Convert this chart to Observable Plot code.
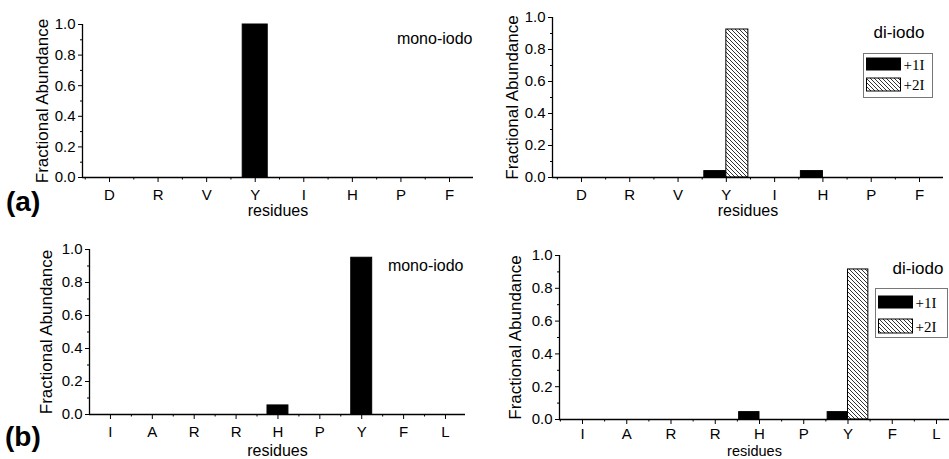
<!DOCTYPE html>
<html><head><meta charset="utf-8">
<script src="https://cdn.jsdelivr.net/npm/d3@7"></script>
<script src="https://cdn.jsdelivr.net/npm/@observablehq/plot@0.6"></script>
<style>
body{margin:0;background:#fff;font-family:"Liberation Sans",Arial,sans-serif;}
#root{position:relative;width:949px;height:459px;overflow:hidden;background:#fff;}
.panel{position:absolute;}
#overlay{position:absolute;left:0;top:0;pointer-events:none;}
</style></head><body>
<svg width="0" height="0" style="position:absolute"><defs>
<pattern id="hatch" patternUnits="userSpaceOnUse" width="4" height="4">
<rect width="4" height="4" fill="white"/>
<path d="M-1,-1 L5,5 M3,-1 L5,1 M-1,3 L1,5" stroke="#333" stroke-width="1"/>
</pattern></defs></svg>
<div id="root"></div>
<script>
// ---- data ----
const residuesA = ["D","R","V","Y","I","H","P","F"];
const monoA = [0,0,0,1.0,0,0,0,0];
const di1IA = [0,0,0,0.04,0,0.04,0,0];
const di2IA = [0,0,0,0.925,0,0,0,0];

const residuesB = ["I","A","R","R","H","P","Y","F","L"];
const monoB = [0,0,0,0,0.055,0,0.95,0,0];
const di1IB = [0,0,0,0,0.045,0,0.045,0,0];
const di2IB = [0,0,0,0,0,0,0.915,0,0];

const yTicks = [0,0.2,0.4,0.6,0.8,1.0];
const yMinor = [0.1,0.3,0.5,0.7,0.9];
const seriesNames = ["+1I","+2I"];

const root = document.getElementById("root");
const FONT = "Liberation Sans, Arial, sans-serif";

function makePanel(p){
  const n = p.cats.length;
  const idx = p.cats.map((c,k)=>k+1);
  const halves = d3.range(0, n+1).map(k=>k+0.5).filter(h=>h>p.domain[0]+0.01 && h<p.domain[1]-0.01);
  const marks = [];
  p.series.forEach(s=>{
    const rows = s.values.map((v,k)=>({i:k+1, v}));
    marks.push(Plot.rect(rows, {filter:d=>d.v>0, x1:d=>d.i+s.off*p.barW, x2:d=>d.i+(s.off+1)*p.barW, y1:0, y2:"v", fill:s.fill, stroke:"black", strokeWidth:1}));
  });
  marks.push(
    Plot.ruleY([0], {stroke:"black", strokeWidth:1.3}),
    Plot.ruleX([p.domain[0]], {y1:0, y2:1, stroke:"black", strokeWidth:1.3}),
    Plot.axisY({ticks:yTicks, tickSize:4, tickFormat:()=>"", label:null, anchor:"left"}),
    Plot.axisY({ticks:yMinor, tickSize:2, tickFormat:()=>"", label:null, anchor:"left"}),
    Plot.axisX({ticks:idx, tickSize:5, tickFormat:()=>"", label:null, anchor:"bottom"}),
    Plot.axisX({ticks:halves, tickSize:2.5, tickFormat:()=>"", label:null, anchor:"bottom"}),
    // tick labels
    Plot.text(yTicks, {y:d=>d, text:d=>d.toFixed(1), frameAnchor:"left", dx:-7, textAnchor:"end", lineAnchor:"middle", fontSize:15}),
    Plot.text(idx, {x:d=>d, text:d=>p.cats[d-1], frameAnchor:"bottom", dy:p.xtickDy, lineAnchor:"top", fontSize:15}),
    // titles
    Plot.text(["Fractional Abundance"], {frameAnchor:"left", rotate:-90, dx:p.ylabDx, fontSize:17, lineAnchor:"middle", textAnchor:"middle"}),
    Plot.text(["residues"], {frameAnchor:"bottom", dy:p.xlabDy, fontSize:p.xlabSize, lineAnchor:"middle"}),
    Plot.text([p.title], {frameAnchor:"top-right", textAnchor:"end", dx:p.titleDx, dy:p.titleDy, fontSize:p.titleSize, lineAnchor:"middle"})
  );
  const chart = Plot.plot({
    width:p.width, height:p.height,
    marginLeft:p.ml, marginRight:p.mr, marginTop:p.mt, marginBottom:p.mb,
    x:{type:"linear", domain:p.domain},
    y:{domain:[0,1]},
    style:{fontFamily:FONT, fontSize:"15px", color:"black", background:"transparent", overflow:"visible"},
    marks
  });
  chart.classList.add("panel");
  chart.style.left = p.left+"px";
  chart.style.top = p.top+"px";
  root.appendChild(chart);
}

makePanel({cats:residuesA, series:[{values:monoA, off:-0.5, fill:"black"}],
  left:0, top:0, width:475, height:225, ml:82, mr:2, mt:24, mb:48, domain:[0.444,8.494], barW:0.515,
  xtickDy:12, ylabDx:-40, xlabDy:33, xlabSize:16, title:"mono-iodo", titleDx:-1, titleDy:14, titleSize:16});
makePanel({cats:residuesA, series:[{values:di1IA, off:-1, fill:"black"},{values:di2IA, off:0, fill:"url(#hatch)"}],
  left:470, top:0, width:479, height:225, ml:82, mr:6, mt:17, mb:48, domain:[0.40,8.497], barW:0.456,
  xtickDy:12, ylabDx:-40, xlabDy:33, xlabSize:16, title:"di-iodo", titleDx:-19, titleDy:15, titleSize:17});
makePanel({cats:residuesB, series:[{values:monoB, off:-0.5, fill:"black"}],
  left:0, top:230, width:475, height:229, ml:89, mr:10, mt:19, mb:45, domain:[0.5,9.478], barW:0.5,
  xtickDy:12, ylabDx:-43, xlabDy:36, xlabSize:16, title:"mono-iodo", titleDx:-2, titleDy:16, titleSize:16});
makePanel({cats:residuesB, series:[{values:di1IB, off:-1, fill:"black"},{values:di2IB, off:0, fill:"url(#hatch)"}],
  left:470, top:230, width:479, height:229, ml:89, mr:0, mt:25, mb:40, domain:[0.48,9.294], barW:0.46,
  xtickDy:9, ylabDx:-44, xlabDy:31.5, xlabSize:14.5, title:"di-iodo", titleDx:-6, titleDy:13, titleSize:17});

// overlay: panel letters and legends
const ns = "http://www.w3.org/2000/svg";
const ov = document.createElementNS(ns,"svg");
ov.setAttribute("id","overlay"); ov.setAttribute("width",949); ov.setAttribute("height",459);
root.appendChild(ov);
function el(tag, attrs, text){const e=document.createElementNS(ns,tag); for(const k in attrs) e.setAttribute(k,attrs[k]); if(text!=null) e.textContent=text; ov.appendChild(e); return e;}
el("text",{x:6,y:211,"font-family":FONT,"font-weight":"bold","font-size":28},"(a)");
el("text",{x:5,y:446,"font-family":FONT,"font-weight":"bold","font-size":28},"(b)");
function legend(bx,by,bw,bh,sx,sw,rows){
  el("rect",{x:bx,y:by,width:bw,height:bh,fill:"white",stroke:"#777","stroke-width":1});
  rows.forEach((r,k)=>{
    el("rect",{x:sx,y:r.y,width:sw,height:r.h,fill:k===0?"black":"url(#hatch)",stroke:"black","stroke-width":1});
    el("text",{x:sx+sw+3,y:r.base,"font-family":"Liberation Serif, Times New Roman, serif","font-size":15},seriesNames[k]);
  });
}
legend(863.5,53.5,69,44,866.5,34,[{y:58,h:12,base:70},{y:78,h:13,base:90}]);
legend(875.5,288.5,72,49,878.5,34,[{y:296,h:12,base:308},{y:319,h:14,base:332}]);
</script>
</body></html>
